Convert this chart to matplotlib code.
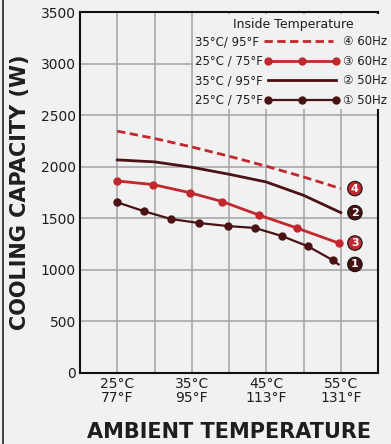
import matplotlib
import matplotlib.pyplot as plt
from matplotlib.lines import Line2D

matplotlib.use("Agg")

# values
temps_grid = [25, 30, 35, 40, 45, 50, 55]
xtick_pos = [25, 35, 45, 55]
xtick_labels = ["25°C\n77°F", "35°C\n95°F", "45°C\n113°F", "55°C\n131°F"]
yticks = [0, 500, 1000, 1500, 2000, 2500, 3000, 3500]

# 4: 35°C/95°F inside, 60Hz (dashed)
s4_temp = temps_grid
s4_cap = [2345, 2274, 2192, 2102, 2005, 1901, 1788]
# 2: 35°C/95°F inside, 50Hz (solid)
s2_temp = temps_grid
s2_cap = [2066, 2047, 1995, 1927, 1852, 1723, 1555]
# 3: 25°C/75°F inside, 60Hz (markers)
s3_temp = [25.0, 29.8, 34.7, 39.1, 44.0, 49.1, 54.7]
s3_cap = [1862, 1827, 1749, 1662, 1532, 1406, 1260]
# 1: 25°C/75°F inside, 50Hz (markers, last point has no marker)
s1_temp = [25.0, 28.6, 32.2, 36.0, 39.8, 43.5, 47.1, 50.6, 53.9, 54.7]
s1_cap = [1655, 1568, 1493, 1454, 1425, 1406, 1328, 1228, 1095, 1053]

RED = "#c1272d"
DARK = "#4a1212"
BG = "#f1f1f1"
GRID = "#a3a3a3"
TXT = "#1e1e1e"

plt.rcParams['font.family'] = ['DejaVu Sans']

fig = plt.figure(figsize=(3.91, 4.44), dpi=100, facecolor=BG)
ax = fig.add_axes([80 / 391, 1 - 373 / 444, 298 / 391, 361 / 444])
ax.set_facecolor(BG)

# grid
ax.set_xlim(20, 60)
ax.set_ylim(0, 3500)
ax.set_xticks(range(25, 60, 5), minor=True)
ax.set_xticks(xtick_pos)
ax.set_xticklabels(xtick_labels, fontsize=10, color=TXT, linespacing=1.0)
ax.set_yticks(yticks)
ax.set_yticklabels([str(v) for v in yticks], fontsize=10, color=TXT)
ax.grid(True, which='both', axis='x', color=GRID, linewidth=1.1)
ax.grid(True, which='major', axis='y', color=GRID, linewidth=1.1)
ax.tick_params(which='both', length=0, pad=3)
for sp in ax.spines.values():
    sp.set_linewidth(1.5)
    sp.set_color("#111111")

# series
l4, = ax.plot(s4_temp, s4_cap, color=RED, linewidth=2, linestyle=(0, (3, 1.6)), zorder=3)
l3, = ax.plot(s3_temp, s3_cap, color=RED, linewidth=2, marker='o', markersize=5, zorder=3)
l2, = ax.plot(s2_temp, s2_cap, color=DARK, linewidth=2, zorder=3)
l1, = ax.plot(s1_temp, s1_cap, color=DARK, linewidth=1.6, marker='o', markersize=5,
              markevery=list(range(len(s1_temp) - 1)), zorder=3)

# numbered end labels, all in one column right of the curves
label_x = 56.9
for num, t, c, col in [("4", s4_temp[-1], s4_cap[-1], RED), ("2", s2_temp[-1], s2_cap[-1], DARK),
                       ("3", s3_temp[-1], s3_cap[-1], RED), ("1", s1_temp[-1], s1_cap[-1], DARK)]:
    ax.annotate(num, xy=(t, c), xytext=(label_x, c), textcoords='data',
                ha='center', va='center', color='white', fontsize=8, fontweight='bold',
                bbox=dict(boxstyle='circle,pad=0.2', fc=col, ec='#111111', lw=0.8),
                annotation_clip=False, zorder=5)

ax.set_ylabel("COOLING CAPACITY (W)", fontsize=15, fontweight='bold', color=TXT, labelpad=8)
ax.set_xlabel("AMBIENT TEMPERATURE", fontsize=15, fontweight='bold', color=TXT, labelpad=12)

# legend: labels on the left, line samples on the right
h4 = Line2D([], [], color=RED, linewidth=2, linestyle=(0, (3, 1.6)))
h3 = Line2D([], [], color=RED, linewidth=2, marker='o', markersize=5)
h2 = Line2D([], [], color=DARK, linewidth=2)
h1 = Line2D([], [], color=DARK, linewidth=1.6, marker='o', markersize=5)
leg = ax.legend([h4, h3, h2, h1], ["35°C/ 95°F", "25°C / 75°F", "35°C / 95°F", "25°C / 75°F"],
                title=" ", title_fontsize=8.5, fontsize=8.5,
                markerfirst=False, numpoints=3, handlelength=6.4, handletextpad=0.1,
                labelspacing=0.55, borderpad=0.2, borderaxespad=0,
                loc='upper left', bbox_to_anchor=((193 - 80) / 298, 1 - 1.5 / 361),
                frameon=True, fancybox=False, facecolor=BG, edgecolor='none', framealpha=1)
for col_box in leg._legend_handle_box.get_children():
    col_box.align = "left"
for t in leg.get_texts():
    t.set_color(TXT)
leg.set_zorder(6)
ax.add_artist(leg)

blank = [Line2D([], [], linestyle='none') for _ in range(4)]
leg2 = ax.legend(blank, ["④ 60Hz", "③ 60Hz", "② 50Hz", "① 50Hz"],
                 title=" ", title_fontsize=8.5, fontsize=8.5,
                 handlelength=0, handletextpad=0, labelspacing=0.55, borderpad=0.2,
                 borderaxespad=0, loc='upper left',
                 bbox_to_anchor=((341 - 80) / 298, 1 - 1.5 / 361),
                 frameon=True, fancybox=False, facecolor=BG, edgecolor='none', framealpha=1)
for t in leg2.get_texts():
    t.set_color(TXT)
leg2.set_zorder(6)

ax.text((293 - 80) / 298, (373 - 24) / 361, "Inside Temperature", transform=ax.transAxes,
        ha='center', va='center', fontsize=9, color=TXT, zorder=7)

# left border of the panel
fig.add_artist(Line2D([0.007, 0.007], [0, 1], transform=fig.transFigure, color="#333333", linewidth=1.3))

fig.savefig("out.png", dpi=100, facecolor=BG)
